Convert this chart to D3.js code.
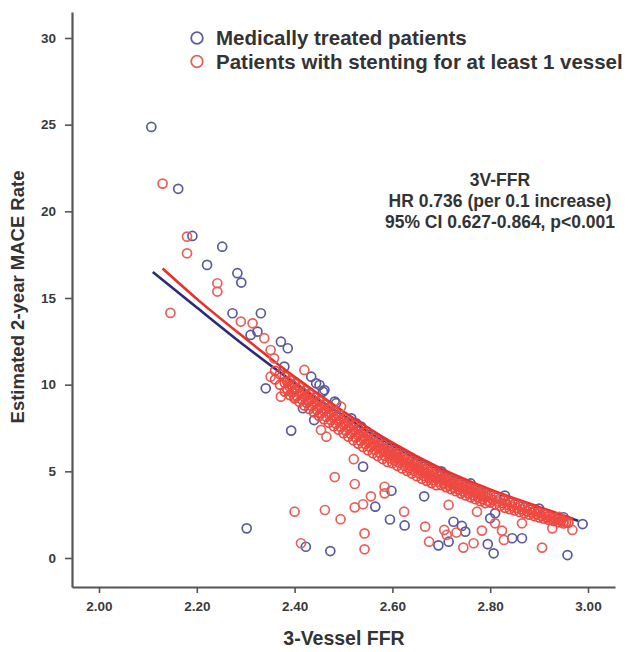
<!DOCTYPE html>
<html>
<head>
<meta charset="utf-8">
<script src="https://cdn.jsdelivr.net/npm/d3@7"></script>
<style>
  body { margin: 0; background: #fff; }
  text { font-family: "Liberation Sans", Arial, Helvetica, sans-serif; }
</style>
</head>
<body>
<div id="chart"></div>
<script>
// axis ticks
const xTicks = [2.0, 2.2, 2.4, 2.6, 2.8, 3.0];
const yTicks = [0, 5, 10, 15, 20, 25, 30];

// medically treated patients (blue circles)
const medicalPts = [
  [2.107,24.87],[2.162,21.3],[2.191,18.58],[2.252,17.96],[2.221,16.91],[2.283,16.43],[2.291,15.89],
  [2.273,14.12],[2.331,14.12],[2.310,12.87],[2.324,13.06],[2.372,12.48],[2.386,12.10],[2.379,11.04],
  [2.434,10.46],[2.444,10.08],[2.341,9.79],[2.458,9.60],[2.482,9.02],[2.417,8.64],[2.393,7.35],
  [2.440,7.96],[2.485,8.93],[2.451,9.98],[2.461,9.69],[2.516,8.06],[2.526,7.77],[2.536,7.58],
  [2.547,7.29],[2.557,7.10],[2.567,6.91],[2.578,6.71],[2.588,6.52],[2.598,6.33],[2.608,6.13],
  [2.65,5.6],[2.70,5.0],[2.76,4.3],[2.83,3.6],[2.90,2.85],[2.95,2.35],
  [2.540,5.27],[2.598,3.88],[2.565,2.96],[2.595,2.22],[2.625,1.88],[2.665,3.56],
  [2.694,0.73],[2.715,0.94],[2.725,2.09],[2.742,1.85],[2.749,1.52],[2.795,0.8],[2.807,0.27],
  [2.810,2.58],[2.80,2.29],[2.845,1.14],[2.865,1.14],[2.958,0.17],[2.989,1.96],
  [2.302,1.71],[2.423,0.65],[2.473,0.40]
];

// stented patients, scattered (red circles)
const stentPts = [
  [2.13,21.6],[2.180,18.54],[2.180,17.58],[2.242,15.85],[2.242,15.37],[2.146,14.14],[2.290,13.64],
  [2.314,13.54],[2.338,12.68],[2.351,12.0],[2.358,11.52],[2.42,10.85],[2.351,10.46],[2.386,9.69],
  [2.40,9.31],[2.372,9.31],[2.427,9.12],[2.495,8.73],[2.454,7.39],[2.465,7.0],[2.521,5.7],
  [2.482,4.67],[2.523,4.27],[2.40,2.67],[2.413,0.85],[2.543,1.42],[2.543,0.50],[2.462,2.77],
  [2.494,2.24],[2.523,2.92],[2.54,3.1],[2.556,3.56],[2.584,4.11],[2.584,3.73],[2.624,2.67],
  [2.667,1.81],[2.675,0.94],[2.706,1.62],[2.711,1.33],[2.731,1.47],[2.745,0.6],[2.766,0.85],
  [2.783,1.58],[2.81,2.0],[2.824,1.58],[2.828,1.04],[2.906,0.6],[2.968,1.62],[2.715,3.06],
  [2.773,2.67],[2.865,2.0],[2.927,1.71],[2.941,2.38]
];

// stented patients, the dense band along the curve (red circles)
const stentBand = [
  [2.36,10.8],[2.36,10.3],[2.37,10.6],[2.37,10.0],
  [2.38,10.45],[2.38,10.1],[2.38,9.6],[2.39,10.25],[2.39,9.9],[2.39,9.4],
  [2.40,10.05],[2.40,9.7],[2.40,9.2],[2.41,9.85],[2.41,9.5],[2.41,9.0],
  [2.42,9.65],[2.42,9.3],[2.42,8.8],[2.43,9.45],[2.43,9.1],[2.43,8.6],
  [2.44,9.25],[2.44,8.9],[2.44,8.4],[2.45,9.05],[2.45,8.7],[2.45,8.2],
  [2.46,8.85],[2.46,8.5],[2.46,8.0],[2.47,8.65],[2.47,8.3],[2.47,7.8],
  [2.48,8.45],[2.48,8.1],[2.48,7.6],[2.49,8.25],[2.49,7.9],[2.49,7.4],
  [2.50,8.05],[2.50,7.7],[2.50,7.2],[2.51,7.85],[2.51,7.5],[2.51,7.0],
  [2.52,7.65],[2.52,7.3],[2.52,6.8],[2.53,7.45],[2.53,7.1],[2.53,6.6],
  [2.54,7.25],[2.54,6.9],[2.54,6.4],[2.55,7.07],[2.55,6.72],[2.55,6.22],
  [2.56,6.9],[2.56,6.55],[2.56,6.05],[2.57,6.73],[2.57,6.38],[2.57,5.88],
  [2.58,6.56],[2.58,6.21],[2.58,5.71],[2.59,6.39],[2.59,6.04],[2.59,5.54],
  [2.60,6.22],[2.60,5.92],[2.60,5.47],[2.61,6.07],[2.61,5.77],[2.61,5.32],
  [2.62,5.92],[2.62,5.62],[2.62,5.17],[2.63,5.77],[2.63,5.47],[2.63,5.02],
  [2.64,5.62],[2.64,5.32],[2.64,4.87],[2.65,5.47],[2.65,5.17],[2.65,4.72],
  [2.66,5.32],[2.66,5.02],[2.66,4.57],[2.67,5.18],[2.67,4.9],[2.67,4.45],
  [2.68,5.04],[2.68,4.76],[2.68,4.32],[2.69,4.9],[2.69,4.62],[2.69,4.2],
  [2.70,4.76],[2.70,4.56],[2.70,4.21],[2.71,4.64],[2.71,4.44],[2.71,4.09],
  [2.72,4.52],[2.72,4.32],[2.72,3.97],[2.73,4.4],[2.73,4.2],[2.73,3.85],
  [2.74,4.28],[2.74,4.08],[2.74,3.73],[2.75,4.16],[2.75,3.96],[2.75,3.61],
  [2.76,4.05],[2.76,3.85],[2.76,3.5],[2.77,3.94],[2.77,3.74],[2.77,3.39],
  [2.78,3.83],[2.78,3.63],[2.78,3.28],[2.79,3.72],[2.79,3.52],[2.79,3.17],
  [2.80,3.62],[2.80,3.2],[2.81,3.52],[2.81,3.1],[2.82,3.42],[2.82,3.0],
  [2.83,3.32],[2.83,2.9],[2.84,3.22],[2.84,2.82],[2.85,3.12],[2.85,2.74],
  [2.86,3.02],[2.86,2.66],[2.87,2.92],[2.87,2.58],[2.88,2.82],[2.88,2.5],
  [2.89,2.72],[2.89,2.42],[2.90,2.62],[2.90,2.34],[2.91,2.52],[2.91,2.27],
  [2.92,2.42],[2.92,2.2],[2.93,2.32],[2.93,2.13],[2.94,2.22],[2.94,2.06],
  [2.95,2.12],[2.95,1.99],[2.96,2.03]
];

// more stented patients packed between the band rows
const stentBandFill = [
  [2.385,10.18],[2.385,9.75],[2.395,9.98],[2.395,9.55],[2.405,9.78],[2.405,9.35],
  [2.415,9.58],[2.415,9.15],[2.425,9.38],[2.425,8.95],[2.435,9.18],[2.435,8.75],
  [2.445,8.98],[2.445,8.55],[2.455,8.78],[2.455,8.35],[2.465,8.58],[2.465,8.15],
  [2.475,8.38],[2.475,7.95],[2.485,8.18],[2.485,7.75],[2.495,7.98],[2.495,7.55],
  [2.505,7.78],[2.505,7.35],[2.515,7.58],[2.515,7.15],[2.525,7.38],[2.525,6.95],
  [2.535,7.18],[2.535,6.75],[2.545,6.99],[2.545,6.56],[2.555,6.81],[2.555,6.39],
  [2.565,6.64],[2.565,6.22],[2.575,6.47],[2.575,6.05],[2.585,6.3],[2.585,5.88],
  [2.595,6.14],[2.595,5.74],[2.605,6.0],[2.605,5.62],[2.615,5.85],[2.615,5.47],
  [2.625,5.7],[2.625,5.32],[2.635,5.55],[2.635,5.17],[2.645,5.4],[2.645,5.02],
  [2.655,5.25],[2.655,4.87],[2.665,5.1],[2.665,4.73],[2.675,4.97],[2.675,4.61],
  [2.685,4.83],[2.685,4.47],[2.695,4.71],[2.695,4.4],[2.705,4.6],[2.705,4.32],
  [2.715,4.48],[2.715,4.2],[2.725,4.36],[2.725,4.08],[2.735,4.24],[2.735,3.96],
  [2.745,4.12],[2.745,3.84],[2.755,4.0],[2.755,3.73],[2.765,3.89],[2.765,3.62],
  [2.775,3.78],[2.775,3.51],[2.785,3.67],[2.785,3.4],[2.795,3.57],[2.795,3.3],
  [2.805,3.36],[2.815,3.26],[2.825,3.16],[2.835,3.07],[2.845,2.97],[2.855,2.89],
  [2.865,2.8],[2.875,2.71],[2.885,2.62],[2.895,2.53],[2.905,2.44],[2.915,2.35],
  [2.925,2.27],[2.935,2.2],[2.945,2.12],[2.955,2.05]
];

// fitted curves
const medicalFit = [[2.11,16.5],[2.20,14.45],[2.30,12.2],[2.40,10.1],[2.50,8.2],[2.60,6.5],[2.70,5.05],[2.80,3.9],[2.90,2.9],[2.98,2.15]];
const stentFit = [[2.13,16.7],[2.20,14.95],[2.30,12.65],[2.40,10.45],[2.50,8.45],[2.60,6.65],[2.70,5.15],[2.80,3.95],[2.90,2.95],[2.97,2.25]];

const legendLabels = ["Medically treated patients", "Patients with stenting for at least 1 vessel"];
const noteLines = ["3V-FFR", "HR 0.736 (per 0.1 increase)", "95% CI 0.627-0.864, p<0.001"];

const width = 632, height = 652;
const blue = "#5a5a9e", red = "#e8605a";

const svg = d3.select("#chart").append("svg")
  .attr("width", width)
  .attr("height", height);

const x = d3.scaleLinear().domain([1.9448, 3.0552]).range([72, 615]);
const y = d3.scaleLinear().domain([-1.673, 31.5]).range([587, 12]);

// axes
const xAxis = svg.append("g")
  .attr("transform", "translate(0,587)")
  .call(d3.axisBottom(x).tickValues(xTicks).tickFormat(d3.format(".2f")).tickSize(6).tickSizeOuter(0));
const yAxis = svg.append("g")
  .attr("transform", "translate(72,0)")
  .call(d3.axisLeft(y).tickValues(yTicks).tickFormat(d3.format("d")).tickSize(7).tickPadding(9).tickSizeOuter(0));

[xAxis, yAxis].forEach(g => {
  g.select(".domain").attr("stroke", "#555").attr("stroke-width", 2.2);
  g.selectAll(".tick line").attr("stroke", "#555").attr("stroke-width", 1.6);
  g.selectAll(".tick text")
    .attr("fill", "#3a3a3a")
    .style("font-size", "13.5px")
    .style("font-weight", "bold")
    .style("font-family", "'Liberation Sans', Arial, sans-serif");
});
xAxis.selectAll(".tick text").attr("y", 14);

// axis titles
svg.append("text")
  .attr("x", 344).attr("y", 645)
  .attr("text-anchor", "middle")
  .attr("fill", "#333")
  .style("font-size", "19.5px").style("font-weight", "bold")
  .text("3-Vessel FFR");

svg.append("text")
  .attr("transform", "translate(24,297) rotate(-90)")
  .attr("text-anchor", "middle")
  .attr("fill", "#333")
  .style("font-size", "18.5px").style("font-weight", "bold")
  .text("Estimated 2-year MACE Rate");

const circles = (pts, color) => svg.append("g").selectAll("circle")
  .data(pts).enter().append("circle")
  .attr("cx", d => x(d[0]))
  .attr("cy", d => y(d[1]))
  .attr("r", 4.5)
  .attr("fill", "none")
  .attr("stroke", color)
  .attr("stroke-width", 1.7);

circles(medicalPts, blue);

const line = d3.line().x(d => x(d[0])).y(d => y(d[1])).curve(d3.curveMonotoneX);
svg.append("path").datum(medicalFit).attr("d", line)
  .attr("fill", "none").attr("stroke", "#2b2b7e").attr("stroke-width", 2.6);
svg.append("path").datum(stentFit).attr("d", line)
  .attr("fill", "none").attr("stroke", "#e8302a").attr("stroke-width", 2.6);

circles(stentPts, red);
circles(stentBand, "#ee4a42");
circles(stentBandFill, "#ee4a42");

// legend
const legend = svg.append("g");
legendLabels.forEach((t, i) => {
  const ly = 38 + i * 23.5;
  legend.append("circle")
    .attr("cx", 197).attr("cy", ly).attr("r", 5.8)
    .attr("fill", "none").attr("stroke", i === 0 ? blue : red).attr("stroke-width", 1.8);
  legend.append("text")
    .attr("x", 216).attr("y", ly + 7)
    .attr("fill", "#333")
    .style("font-size", "20.5px").style("font-weight", "bold")
    .text(t);
});

// annotation
noteLines.forEach((t, i) => {
  svg.append("text")
    .attr("x", 500).attr("y", 186 + i * 21)
    .attr("text-anchor", "middle")
    .attr("fill", "#333")
    .style("font-size", "17.5px").style("font-weight", "bold")
    .text(t);
});
</script>
</body>
</html>
